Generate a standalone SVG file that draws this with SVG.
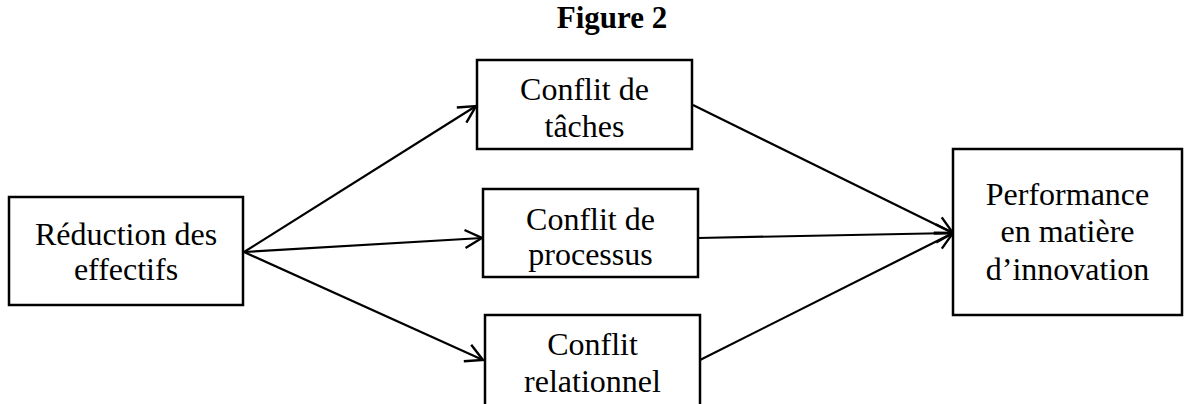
<svg xmlns="http://www.w3.org/2000/svg" width="1184" height="404" viewBox="0 0 1184 404">
<defs>
<style>
.box{fill:#fff;stroke:#000;stroke-width:2.5}
.t{font-family:"Liberation Serif","Times New Roman",serif;font-size:32px;fill:#000;text-anchor:middle}
.title{font-family:"Liberation Serif","Times New Roman",serif;font-size:31px;font-weight:bold;fill:#000;text-anchor:middle}
.c{stroke:#000;stroke-width:2.2;fill:none}
</style>
<marker id="arr" markerUnits="userSpaceOnUse" markerWidth="24" markerHeight="24" viewBox="-20 -12 24 24" refX="0" refY="0" orient="auto">
<path d="M-17,-9 L0,0 L-17,9" fill="none" stroke="#000" stroke-width="2.4"/>
</marker>
</defs>
<rect width="1184" height="404" fill="#fff"/>
<text class="title" x="612" y="28">Figure 2</text>
<g id="connectors">
<line class="c" x1="244" y1="252" x2="476" y2="106" marker-end="url(#arr)"/>
<line class="c" x1="244" y1="252" x2="482" y2="238" marker-end="url(#arr)"/>
<line class="c" x1="244" y1="252" x2="483" y2="360" marker-end="url(#arr)"/>
<line class="c" x1="693" y1="105" x2="953" y2="233" marker-end="url(#arr)"/>
<line class="c" x1="698" y1="238" x2="953" y2="233" marker-end="url(#arr)"/>
<line class="c" x1="700" y1="360" x2="953" y2="233" marker-end="url(#arr)"/>
</g>
<g id="reduction">
<rect class="box" x="9" y="197" width="234" height="108"/>
<text class="t" x="126" y="245">Réduction des</text>
<text class="t" x="126" y="280">effectifs</text>
</g>
<g id="taches">
<rect class="box" x="477" y="60" width="215" height="89"/>
<text class="t" x="584.5" y="100">Conflit de</text>
<text class="t" x="584.5" y="137">tâches</text>
</g>
<g id="processus">
<rect class="box" x="483" y="189" width="215" height="88"/>
<text class="t" x="590.5" y="230">Conflit de</text>
<text class="t" x="590.5" y="265">processus</text>
</g>
<g id="relationnel">
<rect class="box" x="485" y="315" width="215" height="100"/>
<text class="t" x="592.5" y="355">Conflit</text>
<text class="t" x="592.5" y="392">relationnel</text>
</g>
<g id="performance">
<rect class="box" x="953" y="149" width="229" height="166"/>
<text class="t" x="1067.5" y="205">Performance</text>
<text class="t" x="1067.5" y="242">en matière</text>
<text class="t" x="1067.5" y="280">d’innovation</text>
</g>
</svg>
